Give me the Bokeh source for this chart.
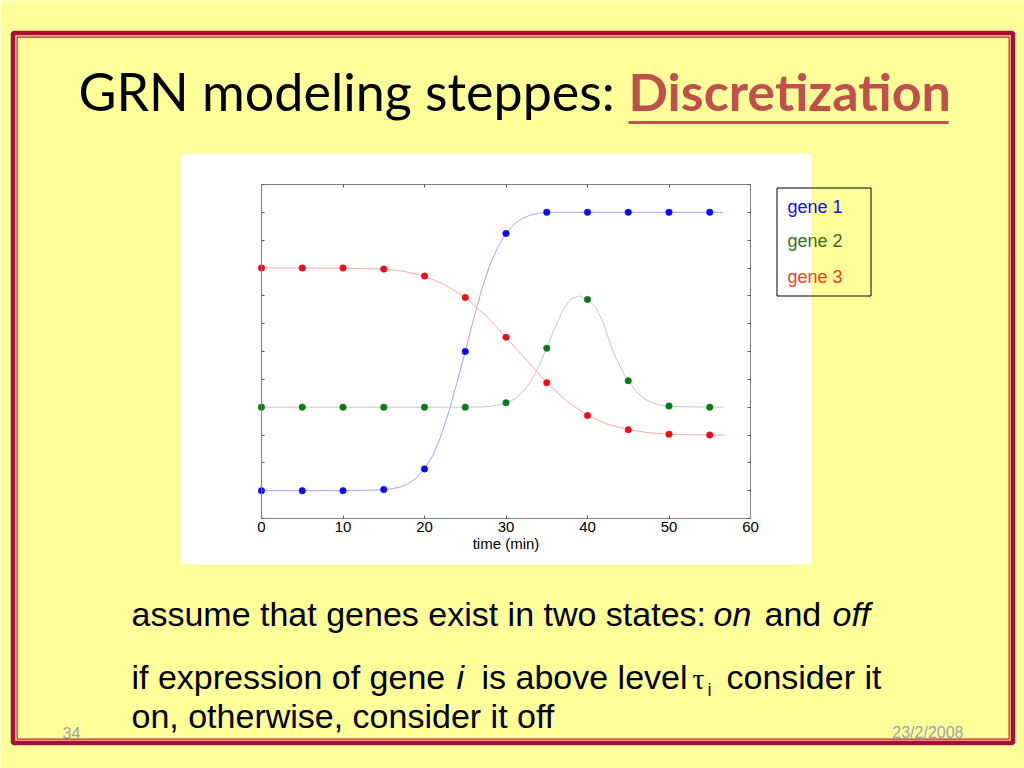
from bokeh.plotting import figure
from bokeh.models import (Range1d, LinearAxis, FixedTicker, Label, BoxAnnotation)
from bokeh.embed import file_html
from bokeh.resources import INLINE

# ---------------- data ----------------
time_pts = [0, 5, 10, 15, 20, 25, 30, 35, 40, 45, 50, 55]
gene1_pts = [0.10, 0.10, 0.10, 0.104, 0.178, 0.60, 1.024, 1.10, 1.10, 1.10, 1.10, 1.10]
gene2_pts = [0.40, 0.40, 0.40, 0.40, 0.40, 0.40, 0.416, 0.612, 0.787, 0.495, 0.404, 0.40]
gene3_pts = [0.90, 0.90, 0.90, 0.896, 0.871, 0.794, 0.651, 0.488, 0.370, 0.319, 0.303, 0.30]

curve1_t = [0, 5, 10, 15, 16, 17, 18, 19, 20, 21, 22, 23, 24, 25, 26, 27, 28, 29, 30,
            31, 32, 33, 34, 35, 40, 45, 50, 56.7]
curve1_v = [0.10, 0.10, 0.10, 0.103, 0.107, 0.113, 0.125, 0.145, 0.178, 0.225, 0.295,
            0.385, 0.49, 0.60, 0.715, 0.82, 0.91, 0.975, 1.024, 1.058, 1.078, 1.09,
            1.097, 1.10, 1.10, 1.10, 1.10, 1.10]
curve2_t = [0, 10, 20, 25, 27, 28, 29, 30, 31, 32, 33, 34, 35, 36, 37, 38, 39, 40, 41,
            42, 43, 44, 45, 46, 47, 48, 49, 50, 52, 56.7]
curve2_v = [0.40, 0.40, 0.40, 0.40, 0.401, 0.403, 0.408, 0.416, 0.428, 0.452, 0.49,
            0.545, 0.612, 0.685, 0.75, 0.79, 0.80, 0.787, 0.76, 0.70, 0.61, 0.545,
            0.495, 0.455, 0.43, 0.415, 0.407, 0.404, 0.401, 0.40]
curve3_t = [0, 5, 10, 12.5, 15, 17.5, 20, 22.5, 25, 27.5, 30, 32.5, 35, 37.5, 40, 42.5,
            45, 47.5, 50, 52.5, 55, 56.7]
curve3_v = [0.90, 0.90, 0.899, 0.898, 0.896, 0.888, 0.871, 0.84, 0.794, 0.73, 0.651,
            0.57, 0.488, 0.42, 0.370, 0.338, 0.319, 0.308, 0.303, 0.301, 0.30, 0.30]

x_ticks = [0, 10, 20, 30, 40, 50, 60]
y_ticks = [0.0, 0.1, 0.2, 0.3, 0.4, 0.5, 0.6, 0.7, 0.8, 0.9, 1.0, 1.1, 1.2]
legend_names = ["gene 1", "gene 2", "gene 3"]

title_plain = "GRN modeling steppes:"
title_emph = "Discretization"
x_label = "time (min)"
slide_no = "34"
slide_date = "23/2/2008"

# ---------------- layout (page pixel geometry) ----------------
W, H = 1024, 768
FL, FR, FT, FB = 261, 750, 184, 518  # chart box edges in page pixels
X0, X1, Y0, Y1 = 0, 60, 0, 1.2

YELLOW = "#FFFF99"
BASE_SHIFT = 0.43  # label baseline correction (in em)


def dx(X):
    return X0 + (X - FL) * (X1 - X0) / (FR - FL)


def dy(Y):
    return Y0 + (FB - Y) * (Y1 - Y0) / (FB - FT)


def text_at(X, Ybase, size, txt, **kw):
    """Label with its alphabetic baseline at page pixel Ybase."""
    return Label(x=dx(X), y=dy(Ybase - BASE_SHIFT * size), text=txt,
                 text_font_size=f"{size}px", text_baseline="alphabetic", **kw)


def box(Xl, Xr, Yt, Yb, **kw):
    return BoxAnnotation(left=dx(Xl), right=dx(Xr), top=dy(Yt), bottom=dy(Yb), **kw)


p = figure(width=W, height=H, output_backend="svg", toolbar_location=None,
           x_range=Range1d(dx(0), dx(W)), y_range=Range1d(dy(H), dy(0)),
           x_axis_type=None, y_axis_type=None,
           min_border_left=0, min_border_right=0, min_border_top=0, min_border_bottom=0)
p.border_fill_color = YELLOW
p.background_fill_color = YELLOW
p.outline_line_color = None
p.xgrid.visible = False
p.ygrid.visible = False

# white panel behind the chart
p.add_layout(box(180, 811, 153, 564, fill_color="white", fill_alpha=1, line_color=None,
                 level="underlay"))

# slide border (double red line)
p.add_layout(box(12.5, 1012.5, 32.5, 742.5, fill_color=None, line_color="#A0123C",
                 line_alpha=1, line_width=4.5, level="overlay"))
p.add_layout(box(15.2, 1010, 35.2, 740, fill_color=None, line_color="#E6A070",
                 line_alpha=1, line_width=1, level="overlay"))
p.add_layout(box(16.6, 1008.6, 36.6, 738.6, fill_color=None, line_color="#C01E40",
                 line_alpha=1, line_width=1.2, level="overlay"))


# axes (box), drawn at fixed data locations
def make_axis(ticks, bounds, loc, labels):
    ax = LinearAxis(fixed_location=loc, bounds=bounds)
    ax.ticker = FixedTicker(ticks=ticks)
    ax.axis_line_color = "#808080"
    ax.axis_line_width = 1
    ax.major_tick_line_color = "#555555"
    ax.major_tick_in = 3
    ax.major_tick_out = 0
    ax.minor_tick_line_color = None
    if labels:
        ax.major_label_text_font = "Liberation Sans"
        ax.major_label_text_font_size = "15px"
        ax.major_label_text_color = "black"
        ax.major_label_standoff = 3
    else:
        ax.major_label_text_color = None
    return ax


bottom = make_axis(x_ticks, (X0, X1), Y0, True)
bottom.axis_label = x_label
bottom.axis_label_text_font = "Liberation Sans"
bottom.axis_label_text_font_size = "15px"
bottom.axis_label_text_font_style = "normal"
bottom.axis_label_text_color = "black"
bottom.axis_label_standoff = 0
p.add_layout(bottom, "below")
p.add_layout(make_axis(x_ticks, (X0, X1), Y1, False), "above")
p.add_layout(make_axis(y_ticks, (Y0, Y1), X0, False), "left")
p.add_layout(make_axis(y_ticks, (Y0, Y1), X1, False), "right")

# curves and points
series = [
    (curve1_t, curve1_v, gene1_pts, "#A4A4F2", "#0B0BEF"),
    (curve2_t, curve2_v, gene2_pts, "#BECCBE", "#0B7A16"),
    (curve3_t, curve3_v, gene3_pts, "#FFA8A8", "#EE0E18"),
]
for ct, cv, pts, lc, mc in series:
    p.line(ct, cv, line_color=lc, line_width=1)
for ct, cv, pts, lc, mc in series:
    p.scatter(time_pts, pts, size=6.5, fill_color=mc, line_color=mc, line_width=0.5)

# legend box
p.add_layout(box(776.5, 870.5, 187.5, 295.5, fill_color=None, line_color="black",
                 line_alpha=1, line_width=1, level="overlay"))
legend_colors = ["#1010E6", "#3D6B1E", "#F2401E"]
legend_base = [214, 248, 284]
for name, c, yb in zip(legend_names, legend_colors, legend_base):
    p.add_layout(text_at(787, yb, 18, name, text_color=c, text_font="Liberation Sans"))

# title
p.add_layout(text_at(78, 113, 52, title_plain, text_color="black", text_font="Lato"))
p.add_layout(text_at(628, 113, 52, title_emph, text_color="#C0504D", text_font="Lato",
                     text_font_style="bold"))
p.add_layout(box(628, 948, 120.5, 123.5, fill_color="#C0504D", fill_alpha=1,
                 line_color=None, level="overlay"))

# body text
BODY = dict(text_font="Liberation Sans", text_color="black", text_align="left")
segments = [
    ("assume that genes exist in two states:", 131, 628, "normal"),
    ("on", 713, 628, "italic"),
    ("and", 764, 628, "normal"),
    ("off", 832, 628, "italic"),
    ("if expression of gene", 131, 691, "normal"),
    ("i", 456, 691, "italic"),
    ("is above level", 481, 691, "normal"),
    ("consider it", 726, 691, "normal"),
    ("on, otherwise, consider it off", 131, 730, "normal"),
]
for txt, X, Y, st in segments:
    p.add_layout(text_at(X, Y, 34, txt, text_font_style=st, **BODY))
p.add_layout(text_at(692, 691, 30, "\u03c4", text_font="Liberation Serif",
                     text_color="black"))
p.add_layout(text_at(707, 697, 18, "i", text_font="Liberation Sans", text_color="black"))

# footer
p.add_layout(text_at(62, 739, 16, slide_no, text_font="Liberation Sans",
                     text_color="#A0A0A8"))
p.add_layout(text_at(963, 739, 16, slide_date, text_font="Liberation Sans",
                     text_color="#A0A0A8", text_align="right"))

open("out.html", "w").write(file_html(p, INLINE))
